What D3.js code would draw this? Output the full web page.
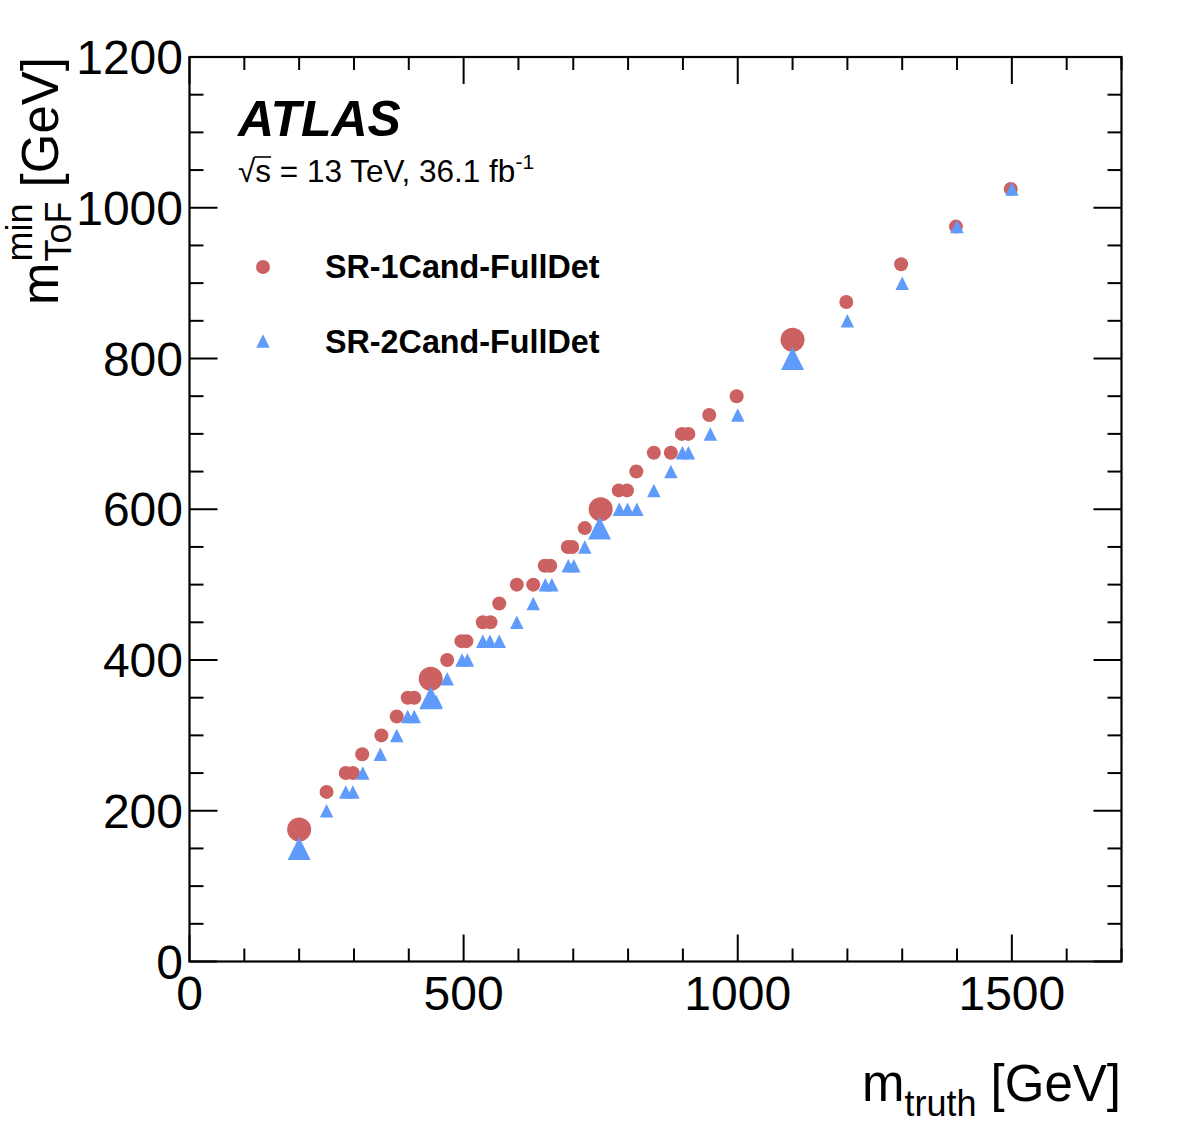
<!DOCTYPE html>
<html><head><meta charset="utf-8">
<script src="https://cdn.jsdelivr.net/npm/d3@7"></script>
<style>
html,body{margin:0;padding:0;background:#fff;}
text{font-family:"Liberation Sans",Arial,Helvetica,sans-serif;fill:#000;}
</style></head>
<body>
<svg id="c" width="1182" height="1146"></svg>
<script>
// ---- data ----
const sr1Mass = [200,250,285,298,315,350,378,398,410,440,470,496,505,535,549,565,597,627,648,658,690,698,721,750,783,798,815,847,878,898,910,948,998,1100,1198,1298,1398,1498];
const sr1Tof  = [175,225,250,250,275,300,325,350,350,375,400,425,425,450,450,475,500,500,525,525,550,550,575,600,625,625,650,675,675,700,700,725,750,825,875,925,975,1025];
const sr2Mass = [200,250,285,298,316,348,378,398,410,440,450,470,497,507,535,548,565,597,627,649,661,691,701,721,748,784,799,816,847,878,899,910,950,1000,1100,1200,1300,1400,1500];
const sr2Tof  = [150,200,225,225,250,275,300,325,325,350,345,375,400,400,425,425,425,450,475,500,500,525,525,550,575,600,600,600,625,650,675,675,700,725,800,850,900,975,1025];
const benchmarkMass = [200,440,748,750,1100];
const xMajorTicks = [0,500,1000,1500];
const yMajorTicks = [0,200,400,600,800,1000,1200];
const legendLabels = ["SR-1Cand-FullDet","SR-2Cand-FullDet"];

const RED = "#cb6161", BLUE = "#5f9bfa";
const svg = d3.select("#c");
const X0=189.5, X1=1121.5, Y0=961.5, Y1=57;
const x = d3.scaleLinear().domain([0,1700]).range([X0,X1]);
const y = d3.scaleLinear().domain([0,1200]).range([Y0,Y1]);

// ---- axes (ROOT style ticks on all sides, inward) ----
const xMinor = d3.range(0,1701,100), yMinor = d3.range(0,1201,50);
function tickLen(v, majors, big, small){ return majors.includes(v)?big:small; }
const ax = svg.append("g").attr("stroke","#000").attr("stroke-width",2);
xMinor.forEach(v=>{
  const L = tickLen(v,xMajorTicks,27,13);
  ax.append("line").attr("x1",x(v)).attr("x2",x(v)).attr("y1",Y0).attr("y2",Y0-L);
  ax.append("line").attr("x1",x(v)).attr("x2",x(v)).attr("y1",Y1).attr("y2",Y1+L);
});
yMinor.forEach(v=>{
  const L = tickLen(v,yMajorTicks,28,14);
  ax.append("line").attr("x1",X0).attr("x2",X0+L).attr("y1",y(v)).attr("y2",y(v));
  ax.append("line").attr("x1",X1).attr("x2",X1-L).attr("y1",y(v)).attr("y2",y(v));
});
svg.append("rect").attr("x",X0).attr("y",Y1).attr("width",X1-X0).attr("height",Y0-Y1)
  .attr("fill","none").attr("stroke","#000").attr("stroke-width",2.2);

// tick labels
svg.append("g").selectAll("text").data(xMajorTicks).join("text")
  .attr("x",d=>x(d)).attr("y",1010).attr("text-anchor","middle").attr("font-size",48).text(d=>d);
svg.append("g").selectAll("text").data(yMajorTicks).join("text")
  .attr("x",183).attr("y",d=>y(d)+17).attr("text-anchor","end").attr("font-size",48).text(d=>d);

// x title
const xt = svg.append("text").attr("x",1121).attr("y",1101).attr("text-anchor","end").attr("font-size",51);
xt.append("tspan").text("m");
xt.append("tspan").attr("font-size",36).attr("dy",15).text("truth");
xt.append("tspan").attr("dy",-15).text(" [GeV]");

// y title (rotated, stacked sup/sub)
const yg = svg.append("g");
const ym = yg.append("text").attr("font-size",51).text("m");
const ysup = yg.append("text").attr("font-size",36).text("min");
const ysub = yg.append("text").attr("font-size",36).text("ToF");
const yrest = yg.append("text").attr("font-size",51).text("\u00a0[GeV]");
const wm = ym.node().getComputedTextLength();
const ws = Math.max(ysup.node().getComputedTextLength(), ysub.node().getComputedTextLength());
const wr = yrest.node().getComputedTextLength();
ym.attr("x",0).attr("y",0);
ysup.attr("x",wm+1).attr("y",-26);
ysub.attr("x",wm+1).attr("y",13);
yrest.attr("x",wm+1+ws).attr("y",0);
const total = wm+1+ws+wr;
yg.attr("transform",`translate(58,${57+total}) rotate(-90)`);

// ---- markers ----
function tri(cx,cy,s){ const h=s/2; return `M${cx-h},${cy+h}L${cx+h},${cy+h}L${cx},${cy-h}Z`; }
const sr1 = sr1Mass.map((m,i)=>({m, v:sr1Tof[i]}));
const sr2 = sr2Mass.map((m,i)=>({m, v:sr2Tof[i]}));
const isBig = d=>benchmarkMass.includes(d.m);
svg.append("g").selectAll("circle").data(sr1).join("circle")
  .attr("cx",d=>x(d.m)).attr("cy",d=>y(d.v)).attr("r",d=>isBig(d)?12:7).attr("fill",RED);
svg.append("g").selectAll("path").data(sr2).join("path")
  .attr("d",d=>tri(x(d.m),y(d.v),isBig(d)?23:13.5)).attr("fill",BLUE);

// ---- labels ----
svg.append("text").attr("x",238).attr("y",136).attr("font-size",50)
  .attr("font-weight","bold").attr("font-style","italic").text("ATLAS");
const en = svg.append("text").attr("x",238).attr("y",182).attr("font-size",31.5);
en.append("tspan").text("\u221as = 13 TeV, 36.1 fb");
en.append("tspan").attr("font-size",21).attr("dy",-13).text("-1");
// overline for sqrt
const n = en.select("tspan").node();
const p0 = n.getStartPositionOfChar(1), p1 = n.getEndPositionOfChar(1);
svg.append("line").attr("x1",p0.x-1).attr("x2",p1.x).attr("y1",157).attr("y2",157)
  .attr("stroke","#000").attr("stroke-width",1.6);

// legend
const lg = svg.append("g");
lg.append("circle").attr("cx",263).attr("cy",267).attr("r",7).attr("fill",RED);
lg.append("path").attr("d",tri(263,341,13.5)).attr("fill",BLUE);
lg.selectAll("text").data(legendLabels).join("text")
  .attr("x",325).attr("y",(d,i)=>278+i*75).attr("font-size",32.3).attr("font-weight","bold").text(d=>d);
</script>
</body></html>
